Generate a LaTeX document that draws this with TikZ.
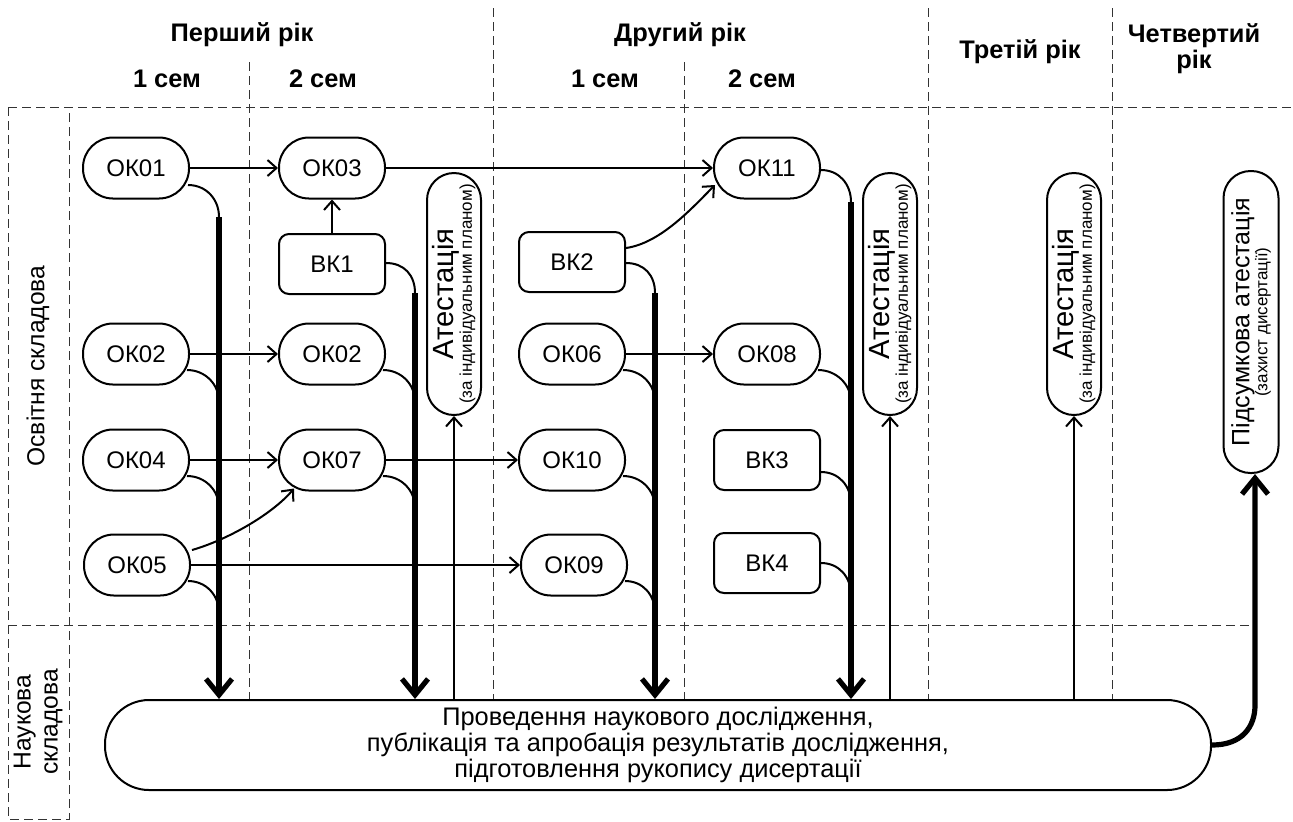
\documentclass[tikz,border=0pt]{standalone}
\usepackage{fontspec}
\setmainfont{Liberation Sans}
\usetikzlibrary{arrows.meta}
\newcommand{\smtxt}{\fontsize{8.5}{10}\selectfont}
\begin{document}
\begin{tikzpicture}[x=0.5pt,y=-0.5pt,
  every node/.style={inner sep=0pt, font=\fontsize{12}{13}\selectfont},
  okbox/.style={draw, fill=white, line width=1pt, rounded corners=15pt, minimum width=53pt, minimum height=30.5pt},
  vkbox/.style={draw, fill=white, line width=1pt, rounded corners=5pt, minimum width=53pt, minimum height=30pt},
  attbox/.style={draw, fill=white, line width=1pt, rotate=90, rounded corners=13.5pt, minimum width=121pt, minimum height=27pt, align=center, font=\fontsize{14.6}{15}\selectfont},
  hdr/.style={font=\fontsize{12.7}{12.5}\selectfont\bfseries, align=center},
  gline/.style={draw=black!80, line width=0.5pt, dash pattern=on 4.5pt off 2.5pt},
  arr/.style={line width=1pt, -{Straight Barb[length=4.5pt,width=8pt]}},
  feed/.style={line width=1pt},
  fat/.style={line width=2.6pt, -{Straight Barb[length=8pt,width=13pt]}}
]
\useasboundingbox (0,0) rectangle (1293,821);

% grid lines
\draw[gline] (8,107) -- (1293,107);
\draw[gline] (8,625) -- (1255,625);
\draw[gline] (8,107) -- (8,819) -- (69,819) -- (69,107);
\draw[gline] (249,62) -- (249,700);
\draw[gline] (493,8) -- (493,700);
\draw[gline] (684,62) -- (684,700);
\draw[gline] (928,8) -- (928,700);
\draw[gline] (1112,8) -- (1112,700);

% headers
\node[hdr] (h1) at (242,35) {Перший рік};
\node[hdr] (h1a) at (167,79) {1 сем};
\node[hdr] (h1b) at (323,79) {2 сем};
\node[hdr] (h2) at (680,35) {Другий рік};
\node[hdr] (h2a) at (605,79) {1 сем};
\node[hdr] (h2b) at (762,79) {2 сем};
\node[hdr] (h3) at (1020,52) {Третій рік};
\node[hdr, font=\fontsize{12.7}{13}\selectfont\bfseries] (h4) at (1194,49) {Четвертий\\рік};

% side labels
\node[rotate=90, font=\fontsize{12.3}{13}\selectfont] (lab1) at (38,366) {Освітня складова};
\node[rotate=90, align=center, font=\fontsize{12.3}{13.5}\selectfont] (lab2) at (38,722) {Наукова\\складова};

% big box
\node[draw, fill=white, line width=1pt, rounded corners=22pt, minimum width=553pt, minimum height=45pt, align=center, font=\fontsize{12.7}{12.8}\selectfont] (box) at (658,745)
  {Проведення наукового дослідження,\\публікація та апробація результатів дослідження,\\підготовлення рукопису дисертації};

% course nodes
\node[okbox] (ok01) at (136,168) {ОК01};
\node[okbox] (ok02) at (136,354) {ОК02};
\node[okbox] (ok04) at (136,460) {ОК04};
\node[okbox] (ok05) at (137,565) {ОК05};
\node[okbox] (ok03) at (332,168) {ОК03};
\node[vkbox] (vk1) at (332,264) {ВК1};
\node[okbox] (ok02b) at (332,354) {ОК02};
\node[okbox] (ok07) at (332,460) {ОК07};
\node[vkbox] (vk2) at (572,262) {ВК2};
\node[okbox] (ok06) at (572,354) {ОК06};
\node[okbox] (ok10) at (572,460) {ОК10};
\node[okbox] (ok09) at (574,565) {ОК09};
\node[okbox] (ok11) at (767,168) {ОК11};
\node[okbox] (ok08) at (767,354) {ОК08};
\node[vkbox] (vk3) at (767,460) {ВК3};
\node[vkbox] (vk4) at (767,563) {ВК4};

% attestation nodes
\node[attbox] (att1) at (454,294) {Атестація\\[-6pt]{\smtxt (за індивідуальним планом)}};
\node[attbox] (att2) at (890,294) {Атестація\\[-6pt]{\smtxt (за індивідуальним планом)}};
\node[attbox] (att3) at (1074,294) {Атестація\\[-6pt]{\smtxt (за індивідуальним планом)}};
\node[attbox, minimum width=151pt, minimum height=27.5pt, font=\fontsize{12.5}{13}\selectfont] (pid) at (1251,322) {Підсумкова атестація\\[-4pt]{\smtxt (захист дисертації)}};

% thick line tops
\coordinate (tA) at (219,217);
\coordinate (tB) at (415,293);
\coordinate (tC) at (655,293);
\coordinate (tD) at (851,202);
\coordinate (pc) at (1255,705);

% horizontal arrows
\draw[arr] (ok01.east) -- (ok03.west);
\draw[arr] (vk1.north) -- (ok03.south);
\draw[arr] (ok03.east) -- (ok11.west);
\draw[arr] (ok02.east) -- (ok02b.west);
\draw[arr] (ok04.east) -- (ok07.west);
\draw[arr] (ok07.east) -- (ok10.west);
\draw[arr] (ok05.east) -- (ok09.west);
\draw[arr] (ok06.east) -- (ok08.west);
\draw[arr] ([shift={(1,-15)}]ok05.east) .. controls +(35,-10) and +(-22,26) .. ([shift={(16,-3)}]ok07.south west);
\draw[arr] ([shift={(0,-14)}]vk2.east) .. controls +(35,-5) and +(-22,22) .. ([shift={(2,17)}]ok11.west);

% feeders into thick lines
\draw[feed] ([shift={(-2,17)}]ok01.east) .. controls +(18,0) and +(0,-18) .. (tA);
\draw[feed] ([shift={(-3,16)}]ok02.east) .. controls +(18,0) and +(0,-18) .. ([yshift=-24pt]ok02.east -| tA);
\draw[feed] ([shift={(-3,16)}]ok04.east) .. controls +(18,0) and +(0,-18) .. ([yshift=-24pt]ok04.east -| tA);
\draw[feed] ([shift={(-3,16)}]ok05.east) .. controls +(18,0) and +(0,-18) .. ([yshift=-24pt]ok05.east -| tA);
\draw[feed] ([shift={(0,-1)}]vk1.east) .. controls +(18,0) and +(0,-18) .. (tB);
\draw[feed] ([shift={(-3,16)}]ok02b.east) .. controls +(18,0) and +(0,-18) .. ([yshift=-24pt]ok02b.east -| tB);
\draw[feed] ([shift={(-3,16)}]ok07.east) .. controls +(18,0) and +(0,-18) .. ([yshift=-24pt]ok07.east -| tB);
\draw[feed] ([shift={(0,1)}]vk2.east) .. controls +(18,0) and +(0,-18) .. (tC);
\draw[feed] ([shift={(-3,16)}]ok06.east) .. controls +(18,0) and +(0,-18) .. ([yshift=-24pt]ok06.east -| tC);
\draw[feed] ([shift={(-3,16)}]ok10.east) .. controls +(18,0) and +(0,-18) .. ([yshift=-24pt]ok10.east -| tC);
\draw[feed] ([shift={(-3,16)}]ok09.east) .. controls +(18,0) and +(0,-18) .. ([yshift=-24pt]ok09.east -| tC);
\draw[feed] ([shift={(0,2)}]ok11.east) .. controls +(18,0) and +(0,-18) .. (tD);
\draw[feed] ([shift={(-3,16)}]ok08.east) .. controls +(18,0) and +(0,-18) .. ([yshift=-24pt]ok08.east -| tD);
\draw[feed] ([shift={(0,12)}]vk3.east) .. controls +(18,0) and +(0,-18) .. ([yshift=-22pt]vk3.east -| tD);
\draw[feed] (vk4.east) .. controls +(18,0) and +(0,-18) .. ([yshift=-16pt]vk4.east -| tD);

% thick arrows
\draw[fat] (tA) -- (tA |- box.north);
\draw[fat] (tB) -- (tB |- box.north);
\draw[fat] (tC) -- (tC |- box.north);
\draw[fat] (tD) -- (tD |- box.north);

% attestation arrows
\draw[arr] (box.north -| att1.west) -- (att1.west);
\draw[arr] (box.north -| att2.west) -- (att2.west);
\draw[arr] (box.north -| att3.west) -- (att3.west);

% final
\draw[fat] (box.east) .. controls +(30,0) and +(0,22) .. (pc) -- (pc |- pid.west);
\end{tikzpicture}
\end{document}
